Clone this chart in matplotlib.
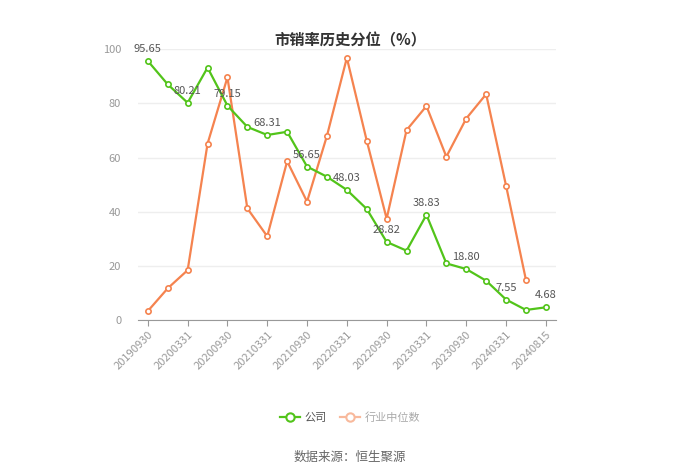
import matplotlib
matplotlib.use("Agg")
import matplotlib.pyplot as plt
from matplotlib.lines import Line2D

plt.rcParams['font.family'] = ['Noto Sans CJK SC', 'DejaVu Sans']

dates = ["20190930", "20191231", "20200331", "20200630", "20200930", "20201231",
         "20210331", "20210630", "20210930", "20211231", "20220331", "20220630",
         "20220930", "20221231", "20230331", "20230630", "20230930", "20231231",
         "20240331", "20240630", "20240815"]
company = [95.65, 87.0, 80.21, 93.2, 79.15, 71.3, 68.31, 69.5, 56.65, 52.9, 48.03,
           41.0, 28.82, 25.6, 38.83, 20.9, 18.80, 14.5, 7.55, 3.7, 4.68]
industry = [3.3, 11.7, 18.4, 65.1, 89.6, 41.2, 30.9, 58.6, 43.7, 68.0, 96.8,
            66.2, 37.4, 70.1, 79.0, 60.3, 74.4, 83.4, 49.6, 14.8, None]
label_idx = [0, 2, 4, 6, 8, 10, 12, 14, 16, 18, 20]

GREEN = "#52c41a"
ORANGE = "#f5834f"

fig = plt.figure(figsize=(7, 4.73), dpi=100)
ax = fig.add_axes([0.197, 0.3235, 0.597, 0.5725])

x = list(range(len(dates)))
ind_x = [i for i, v in zip(x, industry) if v is not None]
ind_y = [v for v in industry if v is not None]

ax.plot(x, company, color=GREEN, lw=1.6, marker="o", ms=3.8,
        mfc="white", mec=GREEN, mew=1.2, zorder=3)
ax.plot(ind_x, ind_y, color=ORANGE, lw=1.6, marker="o", ms=3.8,
        mfc="white", mec=ORANGE, mew=1.2, zorder=2)

for i in label_idx:
    ax.annotate(f"{company[i]:.2f}", (x[i], company[i]), xytext=(0, 5),
                textcoords="offset points", ha="center", va="bottom",
                fontsize=8, color="#555555", zorder=4)

ax.set_xlim(-0.5, len(dates) - 0.5)
ax.set_ylim(0, 100)
ax.set_yticks([0, 20, 40, 60, 80, 100])
ax.tick_params(axis="y", length=0, labelsize=8, labelcolor="#999999", pad=12)
ax.set_xticks(label_idx)
ax.set_xticklabels([dates[i] for i in label_idx], rotation=45, ha="right",
                   rotation_mode="anchor", fontsize=8, color="#999999")
ax.tick_params(axis="x", length=4, color="#999999", pad=3)
ax.grid(axis="y", color="#eeeeee", lw=1)
ax.set_axisbelow(True)
for s in ["top", "right", "left"]:
    ax.spines[s].set_visible(False)
ax.spines["bottom"].set_color("#999999")

fig.text(0.5, 0.915, "市销率历史分位（%）", ha="center", va="center",
         fontsize=11, fontweight="bold", color="#333333")

handles = [
    Line2D([0], [0], color=GREEN, lw=1.6, marker="o", ms=6, mfc="white", mec=GREEN, mew=1.5),
    Line2D([0], [0], color="#f8b99c", lw=1.6, marker="o", ms=6, mfc="white", mec="#f8b99c", mew=1.5),
]
leg = fig.legend(handles, ["公司", "行业中位数"], loc="center", bbox_to_anchor=(0.5, 0.118),
                 ncol=2, frameon=False, fontsize=8, handlelength=1.8, columnspacing=1.2,
                 handletextpad=0.4)
leg.get_texts()[0].set_color("#555555")
leg.get_texts()[1].set_color("#aaaaaa")

fig.text(0.5, 0.034, "数据来源：恒生聚源", ha="center", va="center",
         fontsize=9, color="#666666")

fig.savefig("out.png", dpi=100)
